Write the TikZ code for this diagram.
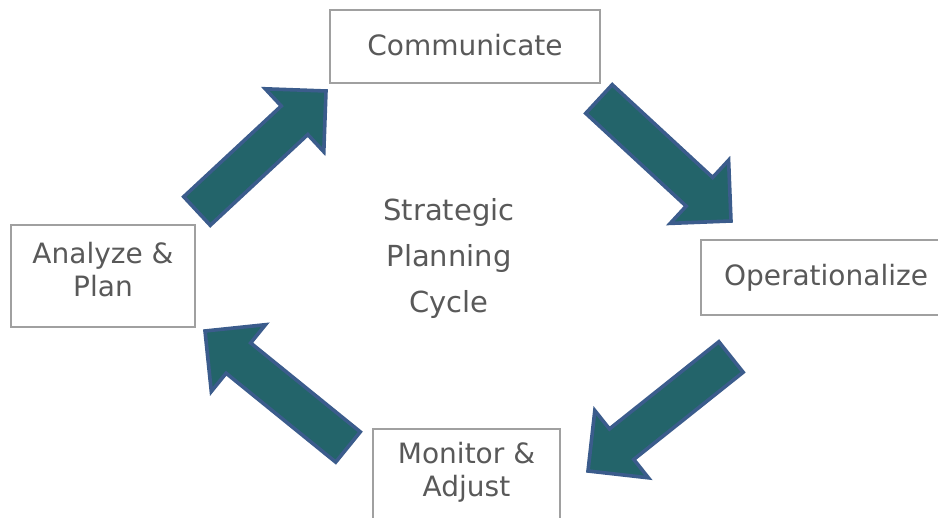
\documentclass[tikz,border=0pt]{standalone}
\usepackage{fontspec}
\setmainfont{DejaVu Sans}
\usetikzlibrary{calc}
\definecolor{arrfill}{HTML}{23646A}
\definecolor{arrline}{HTML}{3B5C8C}
\definecolor{txt}{HTML}{595959}
\definecolor{boxline}{HTML}{A0A0A0}
\newcommand\blockarr[2]{%
  \coordinate (hb) at ($(#2)!43pt!(#1)$);
  \path[blockarrow] ($(#1)!19.5pt!90:(#2)$) -- ($(hb)!19.5pt!90:(#2)$) -- ($(hb)!43pt!90:(#2)$)
    -- (#2) -- ($(hb)!43pt!-90:(#2)$) -- ($(hb)!19.5pt!-90:(#2)$) -- ($(#1)!19.5pt!-90:(#2)$) -- cycle;
}
\begin{document}
\begin{tikzpicture}[x=1pt,y=-1pt,
  box/.style={draw=boxline, line width=1.3pt, fill=white, text=txt,
    font=\fontsize{28}{33}\selectfont, align=center, inner sep=0pt},
  blockarrow/.style={fill=arrfill, draw=arrline, line width=3.6pt, line join=miter}]
\useasboundingbox (0,0) rectangle (938,518);
\clip (0,0) rectangle (938,518);

\node[box, minimum width=270, minimum height=73] (comm) at (465,46.5) {Communicate\rule[-3pt]{0pt}{0pt}};
\node[box, minimum width=250, minimum height=75] (oper) at (826,277.5) {Operationalize};
\node[box, minimum width=184, minimum height=102] (anal) at (103,276) {Analyze \&\\Plan\rule[-14pt]{0pt}{0pt}};
\node[box, minimum width=187, minimum height=102] (mon) at (466.5,480) {Monitor \&\\Adjust\rule[-22pt]{0pt}{0pt}};

\node[text=txt, font=\fontsize{29}{46}\selectfont, align=center] (title) at (449,259) {Strategic\\Planning\\Cycle};

\coordinate (a1s) at (197,211);
\coordinate (a1e) at (326,91);
\coordinate (a2s) at (599,99);
\coordinate (a2e) at (731,221);
\coordinate (a3s) at (731,357);
\coordinate (a3e) at (588,471);
\coordinate (a4s) at (348,447);
\coordinate (a4e) at (205,331);

\blockarr{a1s}{a1e}
\blockarr{a2s}{a2e}
\blockarr{a3s}{a3e}
\blockarr{a4s}{a4e}
\end{tikzpicture}
\end{document}
